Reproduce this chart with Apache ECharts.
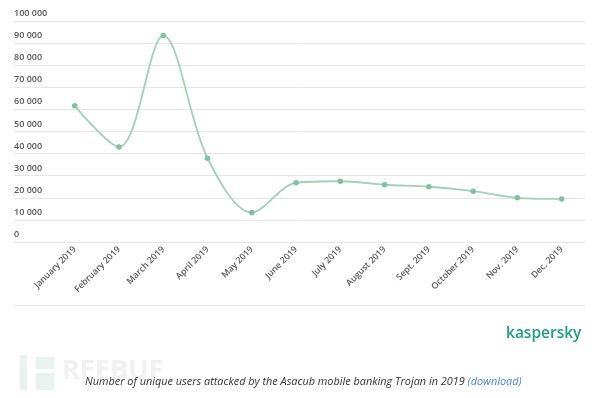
<!DOCTYPE html>
<html>
<head>
<meta charset="utf-8">
<script src="https://cdn.jsdelivr.net/npm/echarts@6/dist/echarts.min.js"></script>
<style>
  html, body { margin: 0; padding: 0; background: #fff; }
  #chart { width: 600px; height: 398px; }
</style>
</head>
<body>
<div id="chart"></div>
<script>
var months = ['January 2019', 'February 2019', 'March 2019', 'April 2019', 'May 2019', 'June 2019',
  'July 2019', 'August 2019', 'Sept. 2019', 'October 2019', 'Nov. 2019', 'Dec. 2019'];
var users = [61600, 43000, 93400, 37900, 13400, 26800, 27500, 25900, 25000, 23000, 20000, 19500];
var yTicks = [0, 10000, 20000, 30000, 40000, 50000, 60000, 70000, 80000, 90000, 100000];

var fmt = function (v) {
  return String(v).replace(/\B(?=(\d{3})+(?!\d))/g, ' ');
};

var option = {
  backgroundColor: '#fff',
  animation: false,
  // grid 0 only carries the full-width gridlines and labels, grid 1 the line
  grid: [
    { left: 14, right: 15, top: 21, bottom: 156 },
    { left: 52.6, right: 16.2, top: 21, bottom: 156 }
  ],
  xAxis: [
    { gridIndex: 0, type: 'value', show: false, min: 0, max: 1 },
    {
      gridIndex: 1,
      type: 'category',
      boundaryGap: true,
      data: months,
      axisLine: { show: false },
      axisTick: { show: false },
      axisLabel: {
        rotate: 45,
        margin: 6,
        fontSize: 8.8,
        fontWeight: 600,
        color: '#5a5a5a',
        fontFamily: 'Open Sans',
        interval: 0
      }
    }
  ],
  yAxis: [
    {
      gridIndex: 0,
      type: 'value',
      min: yTicks[0],
      max: yTicks[yTicks.length - 1],
      interval: yTicks[1] - yTicks[0],
      axisLine: { show: false },
      axisTick: { show: false },
      splitLine: { lineStyle: { color: '#e6e6e6', width: 1 } },
      axisLabel: {
        inside: true,
        margin: 0,
        verticalAlign: 'bottom',
        padding: [0, 0, 3, 0],
        fontSize: 9,
        fontWeight: 600,
        color: '#555',
        fontFamily: 'Open Sans',
        formatter: fmt
      }
    },
    {
      gridIndex: 1,
      type: 'value',
      show: false,
      min: yTicks[0],
      max: yTicks[yTicks.length - 1]
    }
  ],
  graphic: [
    { type: 'line', shape: { x1: 14, y1: 305.5, x2: 585, y2: 305.5 }, style: { stroke: '#e6e6e6', lineWidth: 1 } },
    { type: 'text', left: 506, top: 326, style: { text: 'kaspersky', fill: '#1f9f80', font: '600 15.5px "Open Sans"' } },
    // faint watermark
    { type: 'rect', shape: { x: 20, y: 355, width: 7, height: 35 }, style: { fill: '#e9f2ee' } },
    { type: 'rect', shape: { x: 36, y: 357, width: 18, height: 12 }, style: { fill: '#e9f2ee' } },
    { type: 'rect', shape: { x: 36, y: 373, width: 18, height: 17 }, style: { fill: '#e9f2ee' } },
    { type: 'text', left: 62, top: 358, style: { text: 'REEBUF', fill: '#f1f1f1', font: 'bold 27px "Open Sans"' } },
    {
      type: 'text', left: 85, top: 376,
      style: {
        text: '{a|Number of unique users attacked by the Asacub mobile banking Trojan in 2019 }{b|(download)}',
        rich: {
          a: { fontSize: 10.9, fontStyle: 'italic', fill: '#333', fontFamily: 'Open Sans' },
          b: { fontSize: 10.9, fontStyle: 'italic', fill: '#4a86d8', fontFamily: 'Open Sans' }
        }
      }
    }
  ],
  series: [
    {
      name: 'users',
      type: 'line',
      xAxisIndex: 1,
      yAxisIndex: 1,
      smooth: 0.33,
      data: users,
      symbol: 'circle',
      symbolSize: 5.5,
      itemStyle: { color: '#80c09d' },
      lineStyle: { color: '#9fd2b6', width: 1.8 }
    }
  ]
};

var myChart = echarts.init(document.getElementById('chart'));
myChart.setOption(option);
</script>
</body>
</html>
